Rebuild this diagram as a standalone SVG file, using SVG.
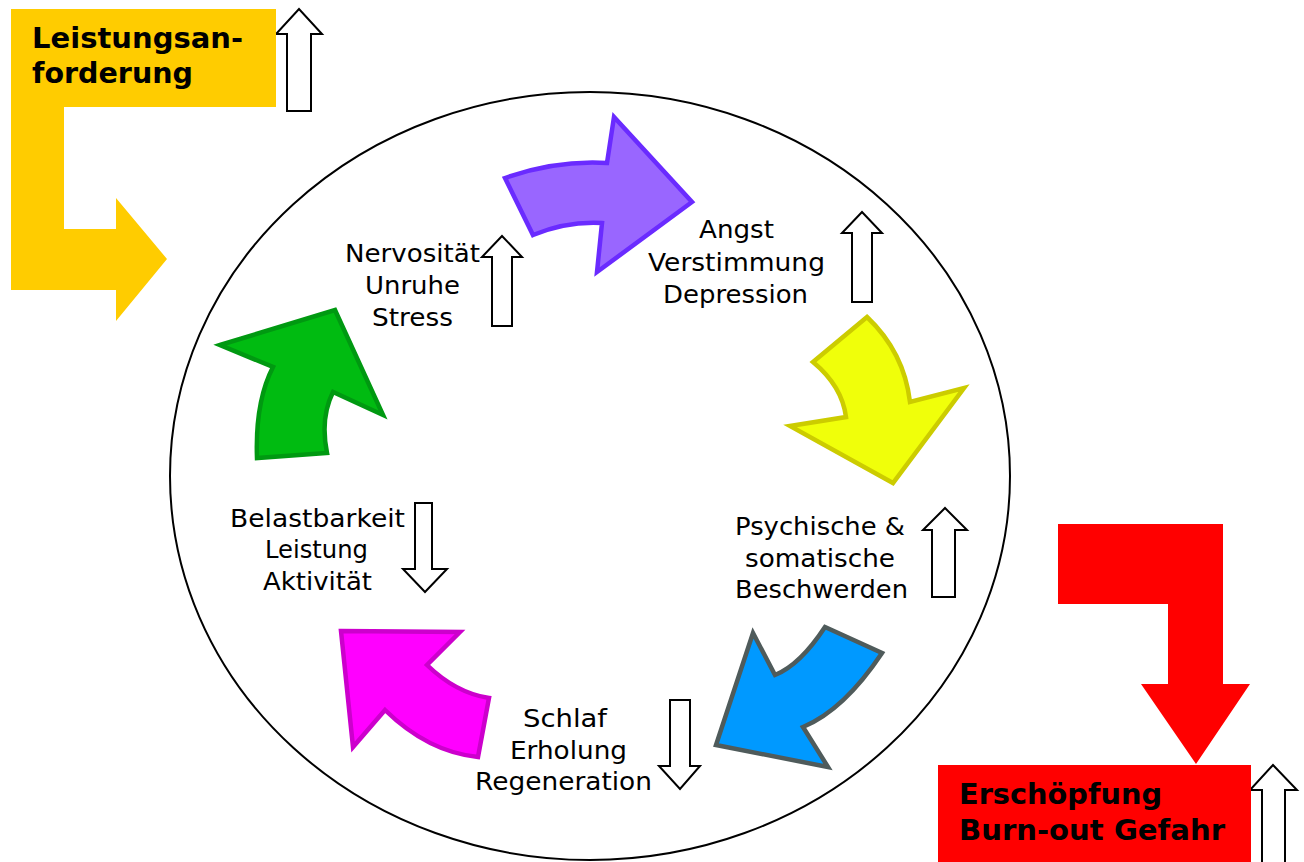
<svg xmlns="http://www.w3.org/2000/svg" width="1304" height="862" viewBox="0 0 1304 862">
<style>
.lbl{font-family:"DejaVu Sans",Verdana,sans-serif;font-size:25px;fill:#000}
.bold{font-family:"DejaVu Sans",Verdana,sans-serif;font-size:29px;font-weight:bold;fill:#000}
.out{fill:#fff;stroke:#000;stroke-width:2}
.cyc{stroke-width:4.5;stroke-linejoin:miter}
</style>
<rect width="1304" height="862" fill="#fff"/>
<g id="cycle-circle">
<ellipse cx="590" cy="476" rx="420" ry="384" fill="none" stroke="#000" stroke-width="2"/>
</g>
<g id="connectors">
<path id="arrow-yellow-L" d="M11,107 L64,107 L64,229 L116,229 L116,198 L167,259 L116,321 L116,290 L11,290 Z" fill="#ffcc00"/>
<path id="arrow-red-L" d="M1058,524 L1223,524 L1223,684 L1250,684 L1196,764 L1141,684 L1168,684 L1168,604 L1058,604 Z" fill="#ff0000"/>
<path id="arrow-purple" class="cyc" d="M505,178 Q556,160 607,163 L614,117 L692,202 L597,272 L602,223 Q567,221 533,235 Z" fill="#9966ff" stroke="#6a2bff"/>
<path id="arrow-yellow" class="cyc" d="M813,362 L867,317 Q904,352 910,402 L964,388 L893,483 L790,426 L846,417 Q842,386 813,362 Z" fill="#f0ff0a" stroke="#cccc00"/>
<path id="arrow-blue" class="cyc" d="M825,627 L882,653 Q844,710 803,727 L828,767 L716,745 L753,633 L775,675 Q800,665 825,627 Z" fill="#0099ff" stroke="#4f5b5b"/>
<path id="arrow-magenta" class="cyc" d="M341,631 L460,632 L427,665 Q456,693 489,698 L478,757 Q428,752 385,710 L353,747 Z" fill="#ff00ff" stroke="#cc00cc"/>
<path id="arrow-green" class="cyc" d="M220,345 L335,310 L383,415 L333,392 Q320,418 327,453 L257,458 Q255,402 273,367 Z" fill="#00bb11" stroke="#009911"/>
<path id="small-up-1" class="out" d="M287,111 L287,34 L276,34 L299,9 L322,34 L311,34 L311,111 Z"/>
<path id="small-up-2" class="out" d="M492,326 L492,257 L482,257 L502,236 L522,257 L512,257 L512,326 Z"/>
<path id="small-up-3" class="out" d="M852,302 L852,233 L842,233 L862,212 L882,233 L872,233 L872,302 Z"/>
<path id="small-up-4" class="out" d="M932,597 L932,530 L923,530 L945,508 L967,530 L955,530 L955,597 Z"/>
<path id="small-down-1" class="out" d="M415,503 L432,503 L432,569 L447,569 L425,592 L403,569 L415,569 Z"/>
<path id="small-down-2" class="out" d="M670,700 L690,700 L690,766 L700,766 L680,789 L659,766 L670,766 Z"/>
<path id="small-up-5" class="out" d="M1262,870 L1262,790 L1250,790 L1273,765 L1297,790 L1285,790 L1285,870 Z"/>
</g>
<g id="node-leistungsanforderung">
<rect x="11" y="9" width="265" height="98" fill="#ffcc00"/>
<text class="bold" x="32" y="48" textLength="211" lengthAdjust="spacingAndGlyphs">Leistungsan-</text>
<text class="bold" x="32" y="83" textLength="161" lengthAdjust="spacingAndGlyphs">forderung</text>
</g>
<g id="node-erschoepfung">
<rect x="938" y="765" width="313" height="100" fill="#ff0000"/>
<text class="bold" x="959" y="804" textLength="203" lengthAdjust="spacingAndGlyphs">Erschöpfung</text>
<text class="bold" x="959" y="840" textLength="266" lengthAdjust="spacingAndGlyphs">Burn-out Gefahr</text>
</g>
<g id="node-nervositaet">
<text class="lbl" x="345" y="262" textLength="135" lengthAdjust="spacingAndGlyphs">Nervosität</text>
<text class="lbl" x="365" y="294" textLength="95" lengthAdjust="spacingAndGlyphs">Unruhe</text>
<text class="lbl" x="372" y="326" textLength="81" lengthAdjust="spacingAndGlyphs">Stress</text>
</g>
<g id="node-angst">
<text class="lbl" x="699" y="238" textLength="75" lengthAdjust="spacingAndGlyphs">Angst</text>
<text class="lbl" x="648" y="271" textLength="177" lengthAdjust="spacingAndGlyphs">Verstimmung</text>
<text class="lbl" x="663" y="303" textLength="145" lengthAdjust="spacingAndGlyphs">Depression</text>
</g>
<g id="node-beschwerden">
<text class="lbl" x="735" y="535" textLength="170" lengthAdjust="spacingAndGlyphs">Psychische &amp;</text>
<text class="lbl" x="745" y="567" textLength="150" lengthAdjust="spacingAndGlyphs">somatische</text>
<text class="lbl" x="735" y="598" textLength="173" lengthAdjust="spacingAndGlyphs">Beschwerden</text>
</g>
<g id="node-schlaf">
<text class="lbl" x="523" y="727" textLength="84" lengthAdjust="spacingAndGlyphs">Schlaf</text>
<text class="lbl" x="510" y="759" textLength="117" lengthAdjust="spacingAndGlyphs">Erholung</text>
<text class="lbl" x="475" y="790" textLength="177" lengthAdjust="spacingAndGlyphs">Regeneration</text>
</g>
<g id="node-belastbarkeit">
<text class="lbl" x="230" y="527" textLength="175" lengthAdjust="spacingAndGlyphs">Belastbarkeit</text>
<text class="lbl" x="265" y="558" textLength="103" lengthAdjust="spacingAndGlyphs">Leistung</text>
<text class="lbl" x="263" y="590" textLength="109" lengthAdjust="spacingAndGlyphs">Aktivität</text>
</g>
</svg>
